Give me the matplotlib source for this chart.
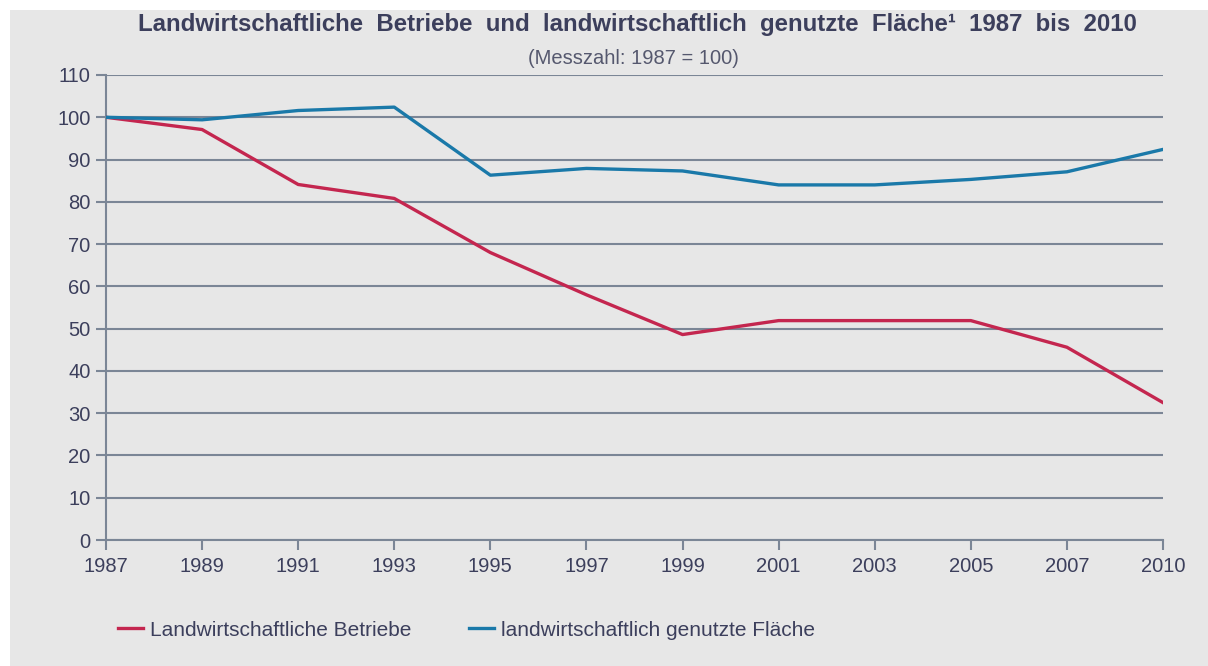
import numpy as np
import matplotlib.pyplot as plt
from matplotlib.patches import Rectangle

plt.rcParams['font.family'] = ['Liberation Sans', 'DejaVu Sans']

# Jahre (gleichmäßig verteilt, 2009 fehlt)
jahre = ['1987', '1989', '1991', '1993', '1995', '1997', '1999',
         '2001', '2003', '2005', '2007', '2010']
betriebe = [100, 97.1, 84.1, 80.8, 68.0, 58.0, 48.6, 51.9, 51.9, 51.9, 45.6, 32.5]
flaeche = [100, 99.4, 101.6, 102.4, 86.3, 87.9, 87.3, 84.0, 84.0, 85.3, 87.1, 92.4]
yticks = list(range(0, 111, 10))

text_col = '#3c3f5c'
grid_col = '#7b8696'
bg_col = '#e7e7e7'
rot = '#c4264f'
blau = '#1a79a9'

fig = plt.figure(figsize=(12.08, 6.66), dpi=100)
fig.patch.set_facecolor('white')
fig.patches.append(Rectangle((10 / 1208, 0), 1, 1 - 10 / 666, transform=fig.transFigure,
                             facecolor=bg_col, edgecolor='none', zorder=-10))

ax = fig.add_axes([106 / 1208, 126 / 666, 1057 / 1208, 465 / 666])
ax.set_facecolor('none')

x = np.arange(len(jahre))
ax.plot(x, betriebe, color=rot, lw=2.4, label='Landwirtschaftliche Betriebe', zorder=3)
ax.plot(x, flaeche, color=blau, lw=2.4, label='landwirtschaftlich genutzte Fläche', zorder=3)

ax.set_xlim(0, len(jahre) - 1)
ax.set_ylim(0, 110)
ax.set_xticks(x)
ax.set_xticklabels(jahre)
ax.set_yticks(yticks)
ax.yaxis.grid(True, color=grid_col, lw=1.5)
ax.set_axisbelow(True)
for s in ['top', 'right']:
    ax.spines[s].set_visible(False)
for s in ['left', 'bottom']:
    ax.spines[s].set_color(grid_col)
    ax.spines[s].set_linewidth(1.5)
ax.tick_params(axis='both', colors=grid_col, labelcolor=text_col, labelsize=14.5,
               length=7, width=1.5)
ax.tick_params(axis='x', pad=5)
ax.tick_params(axis='y', pad=4)

fig.text(637 / 1208, 1 - 25 / 666,
         'Landwirtschaftliche  Betriebe  und  landwirtschaftlich  genutzte  Fläche¹  1987  bis  2010',
         ha='center', va='center', fontsize=17.3, fontweight='bold', color=text_col)
fig.text(633 / 1208, 1 - 58 / 666, '(Messzahl: 1987 = 100)',
         ha='center', va='center', fontsize=14.5, color='#55586e')

fig.legend(loc='center left', bbox_to_anchor=(110 / 1208, 1 - 630 / 666), ncol=2,
           frameon=False, fontsize=15, handlelength=1.2, handletextpad=0.3,
           columnspacing=2.8, labelcolor=text_col, borderaxespad=0)

fig.savefig('out.png', dpi=100, facecolor=fig.get_facecolor())
